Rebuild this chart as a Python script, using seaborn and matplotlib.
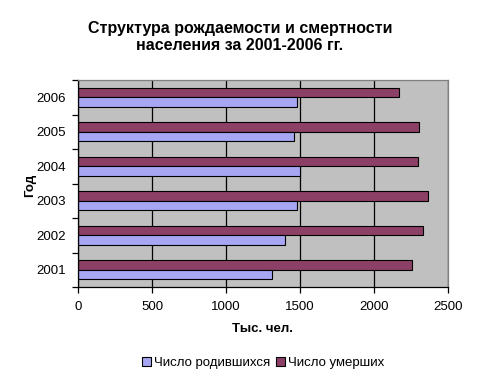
import matplotlib.pyplot as plt
import seaborn as sns
import pandas as pd

# данные (тыс. чел.)
years = ['2001', '2002', '2003', '2004', '2005', '2006']
births = [1312, 1397, 1477, 1502, 1457, 1480]
deaths = [2255, 2332, 2366, 2295, 2304, 2167]
series = ['Число родившихся', 'Число умерших']
colors = ['#9999FF', '#993366']

df = pd.DataFrame({
    'Год': years * 2,
    'Value': births + deaths,
    'Series': [series[0]] * len(years) + [series[1]] * len(years),
})

sns.set_style('ticks')
plt.rcParams['font.family'] = ['Liberation Sans', 'DejaVu Sans']
plt.rcParams.update({'text.color': 'black', 'axes.labelcolor': 'black',
                     'xtick.color': 'black', 'ytick.color': 'black'})

fig = plt.figure(figsize=(4.8, 3.82), dpi=100)
ax = fig.add_axes([78 / 480, 1 - 287 / 382, 370 / 480, 207 / 382])

sns.barplot(data=df, x='Value', y='Год', hue='Series', orient='h',
            order=years[::-1], hue_order=series[::-1], palette=colors[::-1],
            width=0.55, edgecolor='black', linewidth=0.8, ax=ax)

ax.set_facecolor('#C0C0C0')
ax.set_xlim(0, 2500)
ax.set_xticks(range(0, 2501, 500))
ax.grid(axis='x', color='black', linewidth=0.9)
ax.set_axisbelow(True)

# деления между категориями, подписи по центру
ax.set_ylim(len(years) - 0.5, -0.5)
ax.set_yticks([i - 0.5 for i in range(len(years) + 1)])
ax.set_yticklabels([])
ax.set_yticks(range(len(years)), minor=True)
ax.set_yticklabels(years[::-1], minor=True)
ax.tick_params(axis='y', which='major', length=4, width=0.9, color='black')
ax.tick_params(axis='y', which='minor', length=0, pad=9, labelsize=9.5, labelcolor='black')
ax.tick_params(axis='x', length=4, width=0.9, color='black', pad=6, labelsize=9.5, labelcolor='black')

for s in ['left', 'bottom']:
    ax.spines[s].set_color('black')
    ax.spines[s].set_linewidth(0.9)
for s in ['top', 'right']:
    ax.spines[s].set_color('#808080')
    ax.spines[s].set_linewidth(0.9)

ax.set_xlabel('')
ax.set_ylabel('')
fig.text(0.5, 1 - 37 / 382, 'Структура рождаемости и смертности\nнаселения за 2001-2006 гг.',
         ha='center', va='center', fontsize=11.5, fontweight='bold', linespacing=1.25)
fig.text(263 / 480, 1 - 329 / 382, 'Тыс. чел.', ha='center', va='center',
         fontsize=9.5, fontweight='bold')
fig.text(30 / 480, 1 - 185 / 382, 'Год', ha='center', va='center', rotation=90,
         fontsize=9.5, fontweight='bold')

handles, labels = ax.get_legend_handles_labels()
ax.legend_.remove()
fig.legend(handles[::-1], labels[::-1], loc='center', bbox_to_anchor=(263 / 480, 1 - 363 / 382),
           ncol=2, frameon=False, handlelength=0.7, handleheight=0.7,
           handletextpad=0.2, columnspacing=0.4, fontsize=9.5)

fig.savefig('out.png', dpi=100)
